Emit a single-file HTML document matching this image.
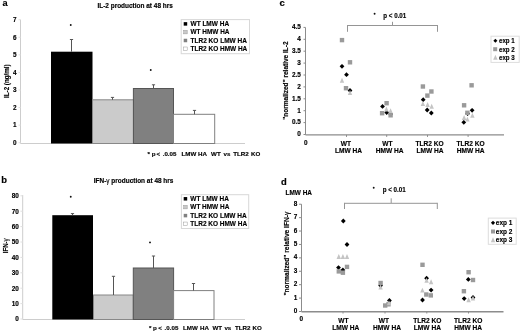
<!DOCTYPE html>
<html><head><meta charset="utf-8"><style>
html,body{margin:0;padding:0;background:#fff;}
svg{display:block;will-change:transform;}
text{font-family:"Liberation Sans", sans-serif;stroke:#000;stroke-width:0.15px;paint-order:stroke;}
</style></head><body>
<svg width="520" height="332" viewBox="0 0 520 332">
<rect width="520" height="332" fill="#fff"/>
<text x="2.6" y="5.7" font-size="9.2" text-anchor="start" font-weight="bold" fill="#000" >a</text>
<text x="97.4" y="7.8" font-size="6.6" text-anchor="start" font-weight="bold" fill="#000" textLength="75.5" lengthAdjust="spacingAndGlyphs" >IL-2 production at 48 hrs</text>
<line x1="20.5" y1="19.6" x2="20.5" y2="143.5" stroke="#cdcdcd" stroke-width="1"/>
<line x1="20.5" y1="143.5" x2="245" y2="143.5" stroke="#cdcdcd" stroke-width="1"/>
<text x="16.6" y="145.0" font-size="6.4" text-anchor="end" font-weight="bold" fill="#000" >0</text>
<line x1="18.5" y1="142.7" x2="20.5" y2="142.7" stroke="#e0e0e0" stroke-width="1"/>
<text x="16.6" y="127.43" font-size="6.4" text-anchor="end" font-weight="bold" fill="#000" >1</text>
<line x1="18.5" y1="125.13" x2="20.5" y2="125.13" stroke="#e0e0e0" stroke-width="1"/>
<text x="16.6" y="109.86" font-size="6.4" text-anchor="end" font-weight="bold" fill="#000" >2</text>
<line x1="18.5" y1="107.56" x2="20.5" y2="107.56" stroke="#e0e0e0" stroke-width="1"/>
<text x="16.6" y="92.29" font-size="6.4" text-anchor="end" font-weight="bold" fill="#000" >3</text>
<line x1="18.5" y1="89.99" x2="20.5" y2="89.99" stroke="#e0e0e0" stroke-width="1"/>
<text x="16.6" y="74.72" font-size="6.4" text-anchor="end" font-weight="bold" fill="#000" >4</text>
<line x1="18.5" y1="72.42" x2="20.5" y2="72.42" stroke="#e0e0e0" stroke-width="1"/>
<text x="16.6" y="57.15" font-size="6.4" text-anchor="end" font-weight="bold" fill="#000" >5</text>
<line x1="18.5" y1="54.85" x2="20.5" y2="54.85" stroke="#e0e0e0" stroke-width="1"/>
<text x="16.6" y="39.58" font-size="6.4" text-anchor="end" font-weight="bold" fill="#000" >6</text>
<line x1="18.5" y1="37.28" x2="20.5" y2="37.28" stroke="#e0e0e0" stroke-width="1"/>
<text x="16.6" y="22.01" font-size="6.4" text-anchor="end" font-weight="bold" fill="#000" >7</text>
<line x1="18.5" y1="19.71" x2="20.5" y2="19.71" stroke="#e0e0e0" stroke-width="1"/>
<text x="8.8" y="81.2" font-size="6.4" text-anchor="middle" font-weight="bold" fill="#000" textLength="33.6" lengthAdjust="spacingAndGlyphs" transform="rotate(-90 8.8 81.2)" >IL-2 (ng/ml)</text>
<rect x="51" y="51.7" width="41.5" height="91.8" fill="#000" stroke="none" stroke-width="1"/>
<rect x="92.5" y="99.8" width="41" height="43.7" fill="#cbcbcb" stroke="#888" stroke-width="1"/>
<rect x="133.4" y="88.5" width="40.1" height="55.0" fill="#808080" stroke="#555" stroke-width="1"/>
<rect x="173.5" y="114.3" width="41.2" height="29.2" fill="#fff" stroke="#808080" stroke-width="1"/>
<line x1="71.5" y1="39.5" x2="71.5" y2="51.7" stroke="#555" stroke-width="1"/>
<line x1="69.9" y1="39.5" x2="73.1" y2="39.5" stroke="#555" stroke-width="1"/>
<line x1="112.5" y1="97.4" x2="112.5" y2="99.8" stroke="#555" stroke-width="1"/>
<line x1="110.9" y1="97.4" x2="114.1" y2="97.4" stroke="#555" stroke-width="1"/>
<line x1="153.5" y1="84.8" x2="153.5" y2="88.5" stroke="#555" stroke-width="1"/>
<line x1="151.9" y1="84.8" x2="155.1" y2="84.8" stroke="#555" stroke-width="1"/>
<line x1="194.5" y1="110.4" x2="194.5" y2="114.3" stroke="#555" stroke-width="1"/>
<line x1="192.9" y1="110.4" x2="196.1" y2="110.4" stroke="#555" stroke-width="1"/>
<circle cx="70.75" cy="25" r="0.95" fill="#111"/>
<circle cx="150.75" cy="70" r="0.95" fill="#111"/>
<rect x="181.2" y="19.6" width="68.3" height="34.1" fill="#fff" stroke="#d8d8d8" stroke-width="1"/>
<rect x="183.7" y="22.15" width="3.5" height="3.5" fill="#000" stroke="none" stroke-width="0.5"/>
<text x="190.5" y="26.2" font-size="6.6" text-anchor="start" font-weight="bold" fill="#000" textLength="38.6" lengthAdjust="spacingAndGlyphs" >WT LMW HA</text>
<rect x="183.7" y="30.35" width="3.5" height="3.5" fill="#c8c8c8" stroke="#999" stroke-width="0.5"/>
<text x="190.5" y="34.4" font-size="6.6" text-anchor="start" font-weight="bold" fill="#000" textLength="39" lengthAdjust="spacingAndGlyphs" >WT HMW HA</text>
<rect x="183.7" y="38.75" width="3.5" height="3.5" fill="#808080" stroke="none" stroke-width="0.5"/>
<text x="190.5" y="42.8" font-size="6.6" text-anchor="start" font-weight="bold" fill="#000" textLength="56.4" lengthAdjust="spacingAndGlyphs" >TLR2 KO LMW HA</text>
<rect x="183.7" y="47.0" width="3.5" height="3.5" fill="#fff" stroke="#999" stroke-width="0.5"/>
<text x="190.5" y="51.05" font-size="6.6" text-anchor="start" font-weight="bold" fill="#000" textLength="56.8" lengthAdjust="spacingAndGlyphs" >TLR2 KO HMW HA</text>
<text x="147.5" y="155.5" font-size="6.2" text-anchor="start" font-weight="bold" fill="#000" >*</text>
<text x="151.8" y="155.5" font-size="6.2" text-anchor="start" font-weight="bold" fill="#000" >p</text>
<text x="156.5" y="155.5" font-size="6.2" text-anchor="start" font-weight="bold" fill="#000" >&lt;</text>
<text x="162.7" y="155.5" font-size="6.2" text-anchor="start" font-weight="bold" fill="#000" >.0.05</text>
<text x="181.5" y="155.5" font-size="6.2" text-anchor="start" font-weight="bold" fill="#000" >LMW</text>
<text x="198.1" y="155.5" font-size="6.2" text-anchor="start" font-weight="bold" fill="#000" >HA</text>
<text x="211.1" y="155.5" font-size="6.2" text-anchor="start" font-weight="bold" fill="#000" >WT</text>
<text x="223.5" y="155.5" font-size="6.2" text-anchor="start" font-weight="bold" fill="#000" >vs</text>
<text x="233.2" y="155.5" font-size="6.2" text-anchor="start" font-weight="bold" fill="#000" >TLR2</text>
<text x="251.0" y="155.5" font-size="6.2" text-anchor="start" font-weight="bold" fill="#000" >KO</text>
<text x="1.3" y="182.9" font-size="9.4" text-anchor="start" font-weight="bold" fill="#000" >b</text>
<text x="93.8" y="182.7" font-size="6.6" text-anchor="start" font-weight="bold" fill="#000" textLength="79.6" lengthAdjust="spacingAndGlyphs" >IFN-<tspan font-weight="normal">γ</tspan> production at 48 hrs</text>
<line x1="22.7" y1="195" x2="22.7" y2="319.5" stroke="#cdcdcd" stroke-width="1"/>
<line x1="22.7" y1="319.5" x2="245" y2="319.5" stroke="#cdcdcd" stroke-width="1"/>
<text x="18.8" y="321.3" font-size="6.4" text-anchor="end" font-weight="bold" fill="#000" >0</text>
<line x1="20.4" y1="319.0" x2="22.7" y2="319.0" stroke="#e0e0e0" stroke-width="1"/>
<text x="18.8" y="305.9" font-size="6.4" text-anchor="end" font-weight="bold" fill="#000" >10</text>
<line x1="20.4" y1="303.6" x2="22.7" y2="303.6" stroke="#e0e0e0" stroke-width="1"/>
<text x="18.8" y="290.5" font-size="6.4" text-anchor="end" font-weight="bold" fill="#000" >20</text>
<line x1="20.4" y1="288.2" x2="22.7" y2="288.2" stroke="#e0e0e0" stroke-width="1"/>
<text x="18.8" y="275.1" font-size="6.4" text-anchor="end" font-weight="bold" fill="#000" >30</text>
<line x1="20.4" y1="272.8" x2="22.7" y2="272.8" stroke="#e0e0e0" stroke-width="1"/>
<text x="18.8" y="259.7" font-size="6.4" text-anchor="end" font-weight="bold" fill="#000" >40</text>
<line x1="20.4" y1="257.4" x2="22.7" y2="257.4" stroke="#e0e0e0" stroke-width="1"/>
<text x="18.8" y="244.3" font-size="6.4" text-anchor="end" font-weight="bold" fill="#000" >50</text>
<line x1="20.4" y1="242.0" x2="22.7" y2="242.0" stroke="#e0e0e0" stroke-width="1"/>
<text x="18.8" y="228.9" font-size="6.4" text-anchor="end" font-weight="bold" fill="#000" >60</text>
<line x1="20.4" y1="226.6" x2="22.7" y2="226.6" stroke="#e0e0e0" stroke-width="1"/>
<text x="18.8" y="213.5" font-size="6.4" text-anchor="end" font-weight="bold" fill="#000" >70</text>
<line x1="20.4" y1="211.2" x2="22.7" y2="211.2" stroke="#e0e0e0" stroke-width="1"/>
<text x="18.8" y="198.1" font-size="6.4" text-anchor="end" font-weight="bold" fill="#000" >80</text>
<line x1="20.4" y1="195.8" x2="22.7" y2="195.8" stroke="#e0e0e0" stroke-width="1"/>
<text x="7.8" y="245.8" font-size="6.4" text-anchor="middle" font-weight="bold" fill="#000" textLength="15" lengthAdjust="spacingAndGlyphs" transform="rotate(-90 7.8 245.8)" >IFN-<tspan font-weight="normal">γ</tspan></text>
<rect x="52.3" y="215.2" width="40.7" height="104.3" fill="#000" stroke="none" stroke-width="1"/>
<rect x="93.5" y="295.0" width="39.8" height="24.5" fill="#cbcbcb" stroke="#888" stroke-width="1"/>
<rect x="133.3" y="268" width="40.3" height="51.5" fill="#808080" stroke="#555" stroke-width="1"/>
<rect x="173.6" y="290.6" width="40.4" height="28.9" fill="#fff" stroke="#808080" stroke-width="1"/>
<line x1="72.5" y1="213.6" x2="72.5" y2="215.2" stroke="#555" stroke-width="1"/>
<line x1="70.9" y1="213.6" x2="74.1" y2="213.6" stroke="#555" stroke-width="1"/>
<line x1="113.5" y1="276.3" x2="113.5" y2="295.0" stroke="#555" stroke-width="1"/>
<line x1="111.9" y1="276.3" x2="115.1" y2="276.3" stroke="#555" stroke-width="1"/>
<line x1="153.5" y1="256" x2="153.5" y2="268" stroke="#555" stroke-width="1"/>
<line x1="151.9" y1="256" x2="155.1" y2="256" stroke="#555" stroke-width="1"/>
<line x1="193.5" y1="283.5" x2="193.5" y2="290.6" stroke="#555" stroke-width="1"/>
<line x1="191.9" y1="283.5" x2="195.1" y2="283.5" stroke="#555" stroke-width="1"/>
<circle cx="70.75" cy="196.75" r="0.95" fill="#111"/>
<circle cx="150" cy="242.4" r="0.95" fill="#111"/>
<rect x="181.4" y="194.7" width="67.3" height="33.8" fill="#fff" stroke="#d8d8d8" stroke-width="1"/>
<rect x="183.7" y="197.05" width="3.5" height="3.5" fill="#000" stroke="none" stroke-width="0.5"/>
<text x="190.3" y="201.1" font-size="6.6" text-anchor="start" font-weight="bold" fill="#000" textLength="38.6" lengthAdjust="spacingAndGlyphs" >WT LMW HA</text>
<rect x="183.7" y="205.35" width="3.5" height="3.5" fill="#c8c8c8" stroke="#999" stroke-width="0.5"/>
<text x="190.3" y="209.4" font-size="6.6" text-anchor="start" font-weight="bold" fill="#000" textLength="39" lengthAdjust="spacingAndGlyphs" >WT HMW HA</text>
<rect x="183.7" y="213.85" width="3.5" height="3.5" fill="#808080" stroke="none" stroke-width="0.5"/>
<text x="190.3" y="217.9" font-size="6.6" text-anchor="start" font-weight="bold" fill="#000" textLength="56.4" lengthAdjust="spacingAndGlyphs" >TLR2 KO LMW HA</text>
<rect x="183.7" y="222.05" width="3.5" height="3.5" fill="#fff" stroke="#999" stroke-width="0.5"/>
<text x="190.3" y="226.1" font-size="6.6" text-anchor="start" font-weight="bold" fill="#000" textLength="56.8" lengthAdjust="spacingAndGlyphs" >TLR2 KO HMW HA</text>
<text x="148.9" y="329.8" font-size="6.2" text-anchor="start" font-weight="bold" fill="#000" >*</text>
<text x="152.9" y="329.8" font-size="6.2" text-anchor="start" font-weight="bold" fill="#000" >p</text>
<text x="158.2" y="329.8" font-size="6.2" text-anchor="start" font-weight="bold" fill="#000" >&lt;</text>
<text x="164.6" y="329.8" font-size="6.2" text-anchor="start" font-weight="bold" fill="#000" >.0.05</text>
<text x="183.0" y="329.8" font-size="6.2" text-anchor="start" font-weight="bold" fill="#000" >LMW</text>
<text x="200.0" y="329.8" font-size="6.2" text-anchor="start" font-weight="bold" fill="#000" >HA</text>
<text x="212.5" y="329.8" font-size="6.2" text-anchor="start" font-weight="bold" fill="#000" >WT</text>
<text x="224.4" y="329.8" font-size="6.2" text-anchor="start" font-weight="bold" fill="#000" >vs</text>
<text x="235.0" y="329.8" font-size="6.2" text-anchor="start" font-weight="bold" fill="#000" >TLR2</text>
<text x="252.6" y="329.8" font-size="6.2" text-anchor="start" font-weight="bold" fill="#000" >KO</text>
<text x="279.4" y="6.0" font-size="9.6" text-anchor="start" font-weight="bold" fill="#000" >c</text>
<line x1="305.5" y1="27.5" x2="305.5" y2="134.9" stroke="#8c8c8c" stroke-width="1"/>
<line x1="305.5" y1="134.9" x2="504" y2="134.9" stroke="#8c8c8c" stroke-width="1.4"/>
<text x="300.9" y="136.3" font-size="6.4" text-anchor="end" font-weight="bold" fill="#000" >0</text>
<line x1="303.5" y1="134.5" x2="305.5" y2="134.5" stroke="#8c8c8c" stroke-width="1"/>
<text x="300.9" y="124.4" font-size="6.4" text-anchor="end" font-weight="bold" fill="#000" >0.5</text>
<line x1="303.5" y1="122.6" x2="305.5" y2="122.6" stroke="#8c8c8c" stroke-width="1"/>
<text x="300.9" y="112.5" font-size="6.4" text-anchor="end" font-weight="bold" fill="#000" >1</text>
<line x1="303.5" y1="110.7" x2="305.5" y2="110.7" stroke="#8c8c8c" stroke-width="1"/>
<text x="300.9" y="100.6" font-size="6.4" text-anchor="end" font-weight="bold" fill="#000" >1.5</text>
<line x1="303.5" y1="98.8" x2="305.5" y2="98.8" stroke="#8c8c8c" stroke-width="1"/>
<text x="300.9" y="88.7" font-size="6.4" text-anchor="end" font-weight="bold" fill="#000" >2</text>
<line x1="303.5" y1="86.9" x2="305.5" y2="86.9" stroke="#8c8c8c" stroke-width="1"/>
<text x="300.9" y="76.8" font-size="6.4" text-anchor="end" font-weight="bold" fill="#000" >2.5</text>
<line x1="303.5" y1="75.0" x2="305.5" y2="75.0" stroke="#8c8c8c" stroke-width="1"/>
<text x="300.9" y="64.9" font-size="6.4" text-anchor="end" font-weight="bold" fill="#000" >3</text>
<line x1="303.5" y1="63.1" x2="305.5" y2="63.1" stroke="#8c8c8c" stroke-width="1"/>
<text x="300.9" y="53.0" font-size="6.4" text-anchor="end" font-weight="bold" fill="#000" >3.5</text>
<line x1="303.5" y1="51.2" x2="305.5" y2="51.2" stroke="#8c8c8c" stroke-width="1"/>
<text x="300.9" y="41.1" font-size="6.4" text-anchor="end" font-weight="bold" fill="#000" >4</text>
<line x1="303.5" y1="39.3" x2="305.5" y2="39.3" stroke="#8c8c8c" stroke-width="1"/>
<text x="300.9" y="29.2" font-size="6.4" text-anchor="end" font-weight="bold" fill="#000" >4.5</text>
<line x1="303.5" y1="27.4" x2="305.5" y2="27.4" stroke="#8c8c8c" stroke-width="1"/>
<line x1="346.5" y1="134.9" x2="346.5" y2="136.9" stroke="#8c8c8c" stroke-width="1"/>
<line x1="386.7" y1="134.9" x2="386.7" y2="136.9" stroke="#8c8c8c" stroke-width="1"/>
<line x1="427.5" y1="134.9" x2="427.5" y2="136.9" stroke="#8c8c8c" stroke-width="1"/>
<line x1="468.1" y1="134.9" x2="468.1" y2="136.9" stroke="#8c8c8c" stroke-width="1"/>
<text x="305.8" y="145.0" font-size="6.4" text-anchor="middle" font-weight="bold" fill="#000" >0</text>
<text x="346" y="146.3" font-size="6.6" text-anchor="middle" font-weight="bold" fill="#000" >WT</text>
<text x="348.6" y="153.3" font-size="6.6" text-anchor="middle" font-weight="bold" fill="#000" >LMW HA</text>
<text x="387.5" y="146.3" font-size="6.6" text-anchor="middle" font-weight="bold" fill="#000" >WT</text>
<text x="389.6" y="153.3" font-size="6.6" text-anchor="middle" font-weight="bold" fill="#000" >HMW HA</text>
<text x="429.6" y="146.3" font-size="6.6" text-anchor="middle" font-weight="bold" fill="#000" >TLR2 KO</text>
<text x="430.1" y="153.3" font-size="6.6" text-anchor="middle" font-weight="bold" fill="#000" >LMW HA</text>
<text x="470.6" y="146.3" font-size="6.6" text-anchor="middle" font-weight="bold" fill="#000" >TLR2 KO</text>
<text x="470.6" y="153.3" font-size="6.6" text-anchor="middle" font-weight="bold" fill="#000" >HMW HA</text>
<text x="288.3" y="80.6" font-size="6.6" text-anchor="middle" font-weight="bold" fill="#000" textLength="78.4" lengthAdjust="spacingAndGlyphs" transform="rotate(-90 288.3 80.6)" >"normalized" relative IL-2</text>
<line x1="347.5" y1="25.5" x2="437.5" y2="25.5" stroke="#959595" stroke-width="1"/>
<line x1="347.5" y1="25" x2="347.5" y2="31.8" stroke="#959595" stroke-width="1"/>
<line x1="437.5" y1="25" x2="437.5" y2="31.8" stroke="#959595" stroke-width="1"/>
<line x1="392.5" y1="21.8" x2="392.5" y2="25" stroke="#959595" stroke-width="1"/>
<circle cx="374.6" cy="13.8" r="0.95" fill="#111"/>
<text x="383.3" y="17.7" font-size="6.6" text-anchor="start" font-weight="bold" fill="#000" textLength="23" lengthAdjust="spacingAndGlyphs" >p &lt; 0.01</text>
<rect x="491.0" y="36.2" width="28.2" height="26.2" fill="#fff" stroke="#ddd" stroke-width="1"/>
<polygon points="495.40,38.80 497.40,40.80 495.40,42.80 493.40,40.80" fill="#000" stroke="none" stroke-width="1"/>
<rect x="493.2" y="47.2" width="4.0" height="4.0" fill="#9a9a9a" stroke="none" stroke-width="1"/>
<polygon points="495.40,54.85 497.60,59.80 493.20,59.80" fill="#c4c4c4" stroke="none" stroke-width="1"/>
<text x="499" y="43.1" font-size="6.6" text-anchor="start" font-weight="bold" fill="#000" textLength="15.8" lengthAdjust="spacingAndGlyphs" >exp 1</text>
<text x="499" y="51.5" font-size="6.6" text-anchor="start" font-weight="bold" fill="#000" textLength="15.8" lengthAdjust="spacingAndGlyphs" >exp 2</text>
<text x="499" y="59.9" font-size="6.6" text-anchor="start" font-weight="bold" fill="#000" textLength="15.8" lengthAdjust="spacingAndGlyphs" >exp 3</text>
<polygon points="342.00,63.90 344.40,66.30 342.00,68.70 339.60,66.30" fill="#000" stroke="none" stroke-width="1"/>
<polygon points="346.50,72.30 348.90,74.70 346.50,77.10 344.10,74.70" fill="#000" stroke="none" stroke-width="1"/>
<polygon points="350.00,88.10 352.40,90.50 350.00,92.90 347.60,90.50" fill="#000" stroke="none" stroke-width="1"/>
<polygon points="382.50,104.00 384.90,106.40 382.50,108.80 380.10,106.40" fill="#000" stroke="none" stroke-width="1"/>
<polygon points="386.70,110.10 389.10,112.50 386.70,114.90 384.30,112.50" fill="#000" stroke="none" stroke-width="1"/>
<polygon points="390.60,111.60 393.00,114.00 390.60,116.40 388.20,114.00" fill="#000" stroke="none" stroke-width="1"/>
<polygon points="423.20,97.30 425.60,99.70 423.20,102.10 420.80,99.70" fill="#000" stroke="none" stroke-width="1"/>
<polygon points="427.20,107.60 429.60,110.00 427.20,112.40 424.80,110.00" fill="#000" stroke="none" stroke-width="1"/>
<polygon points="431.30,110.60 433.70,113.00 431.30,115.40 428.90,113.00" fill="#000" stroke="none" stroke-width="1"/>
<polygon points="472.10,107.90 474.50,110.30 472.10,112.70 469.70,110.30" fill="#000" stroke="none" stroke-width="1"/>
<polygon points="463.80,119.90 466.20,122.30 463.80,124.70 461.40,122.30" fill="#000" stroke="none" stroke-width="1"/>
<polygon points="467.60,111.10 470.00,113.50 467.60,115.90 465.20,113.50" fill="#000" stroke="none" stroke-width="1"/>
<rect x="339.8" y="37.9" width="4.4" height="4.4" fill="#9a9a9a" stroke="none" stroke-width="1"/>
<rect x="347.8" y="60.1" width="4.4" height="4.4" fill="#9a9a9a" stroke="none" stroke-width="1"/>
<rect x="343.8" y="86.0" width="4.4" height="4.4" fill="#9a9a9a" stroke="none" stroke-width="1"/>
<rect x="384.4" y="101.0" width="4.4" height="4.4" fill="#9a9a9a" stroke="none" stroke-width="1"/>
<rect x="379.9" y="111.0" width="4.4" height="4.4" fill="#9a9a9a" stroke="none" stroke-width="1"/>
<rect x="388.4" y="113.1" width="4.4" height="4.4" fill="#9a9a9a" stroke="none" stroke-width="1"/>
<rect x="420.7" y="84.3" width="4.4" height="4.4" fill="#9a9a9a" stroke="none" stroke-width="1"/>
<rect x="429.2" y="89.3" width="4.4" height="4.4" fill="#9a9a9a" stroke="none" stroke-width="1"/>
<rect x="425.2" y="93.4" width="4.4" height="4.4" fill="#9a9a9a" stroke="none" stroke-width="1"/>
<rect x="469.4" y="83.1" width="4.4" height="4.4" fill="#9a9a9a" stroke="none" stroke-width="1"/>
<rect x="461.9" y="103.1" width="4.4" height="4.4" fill="#9a9a9a" stroke="none" stroke-width="1"/>
<rect x="465.2" y="110.6" width="4.4" height="4.4" fill="#9a9a9a" stroke="none" stroke-width="1"/>
<polygon points="342.00,77.85 344.20,82.80 339.80,82.80" fill="#c4c4c4" stroke="none" stroke-width="1"/>
<polygon points="350.00,90.05 352.20,95.00 347.80,95.00" fill="#c4c4c4" stroke="none" stroke-width="1"/>
<polygon points="386.40,106.55 388.60,111.50 384.20,111.50" fill="#c4c4c4" stroke="none" stroke-width="1"/>
<polygon points="390.60,108.35 392.80,113.30 388.40,113.30" fill="#c4c4c4" stroke="none" stroke-width="1"/>
<polygon points="422.90,100.95 425.10,105.90 420.70,105.90" fill="#c4c4c4" stroke="none" stroke-width="1"/>
<polygon points="427.60,102.05 429.80,107.00 425.40,107.00" fill="#c4c4c4" stroke="none" stroke-width="1"/>
<polygon points="431.70,103.75 433.90,108.70 429.50,108.70" fill="#c4c4c4" stroke="none" stroke-width="1"/>
<polygon points="472.40,112.85 474.60,117.80 470.20,117.80" fill="#c4c4c4" stroke="none" stroke-width="1"/>
<polygon points="464.10,115.05 466.30,120.00 461.90,120.00" fill="#c4c4c4" stroke="none" stroke-width="1"/>
<polygon points="467.40,116.65 469.60,121.60 465.20,121.60" fill="#c4c4c4" stroke="none" stroke-width="1"/>
<text x="280.9" y="184.6" font-size="9.4" text-anchor="start" font-weight="bold" fill="#000" >d</text>
<text x="285.5" y="195.1" font-size="6.6" text-anchor="start" font-weight="bold" fill="#000" textLength="26.5" lengthAdjust="spacingAndGlyphs" >LMW HA</text>
<line x1="301.5" y1="204.2" x2="301.5" y2="311.5" stroke="#8c8c8c" stroke-width="1"/>
<line x1="301.5" y1="311.8" x2="503.5" y2="311.8" stroke="#8c8c8c" stroke-width="1.4"/>
<text x="297.3" y="313.2" font-size="6.4" text-anchor="end" font-weight="bold" fill="#000" >0</text>
<line x1="299" y1="311.5" x2="301.5" y2="311.5" stroke="#8c8c8c" stroke-width="1"/>
<text x="297.3" y="299.77" font-size="6.4" text-anchor="end" font-weight="bold" fill="#000" >1</text>
<line x1="299" y1="298.09" x2="301.5" y2="298.09" stroke="#8c8c8c" stroke-width="1"/>
<text x="297.3" y="286.34" font-size="6.4" text-anchor="end" font-weight="bold" fill="#000" >2</text>
<line x1="299" y1="284.68" x2="301.5" y2="284.68" stroke="#8c8c8c" stroke-width="1"/>
<text x="297.3" y="272.91" font-size="6.4" text-anchor="end" font-weight="bold" fill="#000" >3</text>
<line x1="299" y1="271.27" x2="301.5" y2="271.27" stroke="#8c8c8c" stroke-width="1"/>
<text x="297.3" y="259.48" font-size="6.4" text-anchor="end" font-weight="bold" fill="#000" >4</text>
<line x1="299" y1="257.86" x2="301.5" y2="257.86" stroke="#8c8c8c" stroke-width="1"/>
<text x="297.3" y="246.05" font-size="6.4" text-anchor="end" font-weight="bold" fill="#000" >5</text>
<line x1="299" y1="244.45" x2="301.5" y2="244.45" stroke="#8c8c8c" stroke-width="1"/>
<text x="297.3" y="232.62" font-size="6.4" text-anchor="end" font-weight="bold" fill="#000" >6</text>
<line x1="299" y1="231.04" x2="301.5" y2="231.04" stroke="#8c8c8c" stroke-width="1"/>
<text x="297.3" y="219.19" font-size="6.4" text-anchor="end" font-weight="bold" fill="#000" >7</text>
<line x1="299" y1="217.63" x2="301.5" y2="217.63" stroke="#8c8c8c" stroke-width="1"/>
<text x="297.3" y="205.76" font-size="6.4" text-anchor="end" font-weight="bold" fill="#000" >8</text>
<line x1="299" y1="204.22" x2="301.5" y2="204.22" stroke="#8c8c8c" stroke-width="1"/>
<line x1="343" y1="311.5" x2="343" y2="313.5" stroke="#8c8c8c" stroke-width="1"/>
<line x1="385" y1="311.5" x2="385" y2="313.5" stroke="#8c8c8c" stroke-width="1"/>
<line x1="426.8" y1="311.5" x2="426.8" y2="313.5" stroke="#8c8c8c" stroke-width="1"/>
<line x1="468.5" y1="311.5" x2="468.5" y2="313.5" stroke="#8c8c8c" stroke-width="1"/>
<text x="301.3" y="321.4" font-size="6.4" text-anchor="middle" font-weight="bold" fill="#000" >0</text>
<text x="343.5" y="323.4" font-size="6.6" text-anchor="middle" font-weight="bold" fill="#000" >WT</text>
<text x="345.7" y="330.4" font-size="6.6" text-anchor="middle" font-weight="bold" fill="#000" >LMW HA</text>
<text x="383.8" y="323.4" font-size="6.6" text-anchor="middle" font-weight="bold" fill="#000" >WT</text>
<text x="387" y="330.4" font-size="6.6" text-anchor="middle" font-weight="bold" fill="#000" >HMW HA</text>
<text x="427.4" y="323.4" font-size="6.6" text-anchor="middle" font-weight="bold" fill="#000" >TLR2 KO</text>
<text x="427.4" y="330.4" font-size="6.6" text-anchor="middle" font-weight="bold" fill="#000" >LMW HA</text>
<text x="468.2" y="323.4" font-size="6.6" text-anchor="middle" font-weight="bold" fill="#000" >TLR2 KO</text>
<text x="468.2" y="330.4" font-size="6.6" text-anchor="middle" font-weight="bold" fill="#000" >HMW HA</text>
<text x="289.0" y="253.7" font-size="6.6" text-anchor="middle" font-weight="bold" fill="#000" textLength="83.8" lengthAdjust="spacingAndGlyphs" transform="rotate(-90 289.0 253.7)" >"normalized" relative IFN-<tspan font-weight="normal">γ</tspan></text>
<line x1="344.5" y1="203.3" x2="437.3" y2="203.3" stroke="#959595" stroke-width="1"/>
<line x1="344.5" y1="202.8" x2="344.5" y2="209" stroke="#959595" stroke-width="1"/>
<line x1="437.3" y1="202.8" x2="437.3" y2="209" stroke="#959595" stroke-width="1"/>
<line x1="391.2" y1="198.3" x2="391.2" y2="203" stroke="#959595" stroke-width="1"/>
<circle cx="373.7" cy="187.7" r="0.95" fill="#111"/>
<text x="382.7" y="191.9" font-size="6.6" text-anchor="start" font-weight="bold" fill="#000" textLength="23.1" lengthAdjust="spacingAndGlyphs" >p &lt; 0.01</text>
<rect x="488.3" y="218.1" width="27.9" height="26.2" fill="#fff" stroke="#ddd" stroke-width="1"/>
<polygon points="493.00,220.70 495.10,222.80 493.00,224.90 490.90,222.80" fill="#000" stroke="none" stroke-width="1"/>
<rect x="491.0" y="229.5" width="4.0" height="4.0" fill="#9a9a9a" stroke="none" stroke-width="1"/>
<polygon points="493.00,237.25 495.20,242.20 490.80,242.20" fill="#c4c4c4" stroke="none" stroke-width="1"/>
<text x="495.8" y="225.1" font-size="6.6" text-anchor="start" font-weight="bold" fill="#000" textLength="16.6" lengthAdjust="spacingAndGlyphs" >exp 1</text>
<text x="495.8" y="233.8" font-size="6.6" text-anchor="start" font-weight="bold" fill="#000" textLength="16.6" lengthAdjust="spacingAndGlyphs" >exp 2</text>
<text x="495.8" y="242.2" font-size="6.6" text-anchor="start" font-weight="bold" fill="#000" textLength="16.6" lengthAdjust="spacingAndGlyphs" >exp 3</text>
<polygon points="343.30,218.60 345.70,221.00 343.30,223.40 340.90,221.00" fill="#000" stroke="none" stroke-width="1"/>
<polygon points="347.00,242.10 349.40,244.50 347.00,246.90 344.60,244.50" fill="#000" stroke="none" stroke-width="1"/>
<polygon points="338.50,265.20 340.90,267.60 338.50,270.00 336.10,267.60" fill="#000" stroke="none" stroke-width="1"/>
<polygon points="342.90,267.60 345.30,270.00 342.90,272.40 340.50,270.00" fill="#000" stroke="none" stroke-width="1"/>
<polygon points="380.60,283.10 383.00,285.50 380.60,287.90 378.20,285.50" fill="#000" stroke="none" stroke-width="1"/>
<polygon points="389.40,298.10 391.80,300.50 389.40,302.90 387.00,300.50" fill="#000" stroke="none" stroke-width="1"/>
<polygon points="426.60,275.80 429.00,278.20 426.60,280.60 424.20,278.20" fill="#000" stroke="none" stroke-width="1"/>
<polygon points="431.10,287.70 433.50,290.10 431.10,292.50 428.70,290.10" fill="#000" stroke="none" stroke-width="1"/>
<polygon points="422.50,297.60 424.90,300.00 422.50,302.40 420.10,300.00" fill="#000" stroke="none" stroke-width="1"/>
<polygon points="468.30,277.00 470.70,279.40 468.30,281.80 465.90,279.40" fill="#000" stroke="none" stroke-width="1"/>
<polygon points="464.20,296.20 466.60,298.60 464.20,301.00 461.80,298.60" fill="#000" stroke="none" stroke-width="1"/>
<polygon points="473.00,295.10 475.40,297.50 473.00,299.90 470.60,297.50" fill="#000" stroke="none" stroke-width="1"/>
<rect x="344.8" y="264.7" width="4.4" height="4.4" fill="#9a9a9a" stroke="none" stroke-width="1"/>
<rect x="336.6" y="269.2" width="4.4" height="4.4" fill="#9a9a9a" stroke="none" stroke-width="1"/>
<rect x="340.7" y="270.5" width="4.4" height="4.4" fill="#9a9a9a" stroke="none" stroke-width="1"/>
<rect x="378.4" y="280.8" width="4.4" height="4.4" fill="#9a9a9a" stroke="none" stroke-width="1"/>
<rect x="383.0" y="303.3" width="4.4" height="4.4" fill="#9a9a9a" stroke="none" stroke-width="1"/>
<rect x="386.3" y="302.1" width="4.4" height="4.4" fill="#9a9a9a" stroke="none" stroke-width="1"/>
<rect x="420.3" y="262.6" width="4.4" height="4.4" fill="#9a9a9a" stroke="none" stroke-width="1"/>
<rect x="424.1" y="292.3" width="4.4" height="4.4" fill="#9a9a9a" stroke="none" stroke-width="1"/>
<rect x="428.6" y="293.2" width="4.4" height="4.4" fill="#9a9a9a" stroke="none" stroke-width="1"/>
<rect x="466.4" y="270.0" width="4.4" height="4.4" fill="#9a9a9a" stroke="none" stroke-width="1"/>
<rect x="470.8" y="277.8" width="4.4" height="4.4" fill="#9a9a9a" stroke="none" stroke-width="1"/>
<rect x="461.7" y="289.0" width="4.4" height="4.4" fill="#9a9a9a" stroke="none" stroke-width="1"/>
<polygon points="338.80,253.95 341.00,258.90 336.60,258.90" fill="#c4c4c4" stroke="none" stroke-width="1"/>
<polygon points="342.90,253.95 345.10,258.90 340.70,258.90" fill="#c4c4c4" stroke="none" stroke-width="1"/>
<polygon points="347.00,253.95 349.20,258.90 344.80,258.90" fill="#c4c4c4" stroke="none" stroke-width="1"/>
<polygon points="380.60,284.45 382.80,289.40 378.40,289.40" fill="#c4c4c4" stroke="none" stroke-width="1"/>
<polygon points="389.00,300.25 391.20,305.20 386.80,305.20" fill="#c4c4c4" stroke="none" stroke-width="1"/>
<polygon points="426.60,277.85 428.80,282.80 424.40,282.80" fill="#c4c4c4" stroke="none" stroke-width="1"/>
<polygon points="431.10,279.35 433.30,284.30 428.90,284.30" fill="#c4c4c4" stroke="none" stroke-width="1"/>
<polygon points="422.40,287.65 424.60,292.60 420.20,292.60" fill="#c4c4c4" stroke="none" stroke-width="1"/>
<polygon points="468.60,297.25 470.80,302.20 466.40,302.20" fill="#c4c4c4" stroke="none" stroke-width="1"/>
<polygon points="473.00,295.65 475.20,300.60 470.80,300.60" fill="#c4c4c4" stroke="none" stroke-width="1"/>
</svg>
</body></html>
